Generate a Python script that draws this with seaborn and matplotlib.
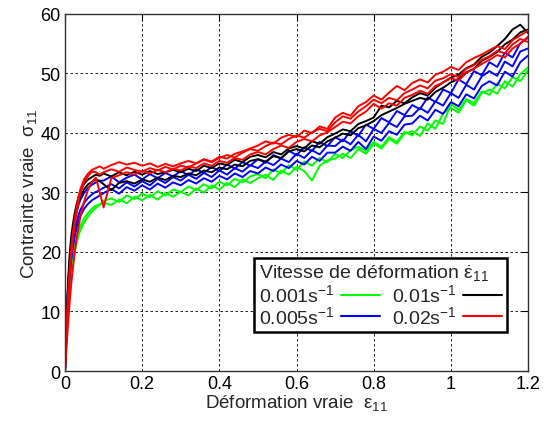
import matplotlib
matplotlib.use("Agg")
import matplotlib.pyplot as plt
from matplotlib.lines import Line2D
import pandas as pd
import seaborn as sns

# strain grid shared by all curves
strain = [0, 0.004, 0.008, 0.012, 0.016, 0.02, 0.025, 0.03, 0.035, 0.04, 0.05, 0.06, 0.07, 0.08, 0.09,
          0.10, 0.12, 0.14, 0.16, 0.18, 0.20, 0.22, 0.24, 0.26, 0.28,
          0.30, 0.32, 0.34, 0.36, 0.38, 0.40, 0.42, 0.44, 0.46, 0.48,
          0.50, 0.52, 0.54, 0.56, 0.58, 0.60, 0.62, 0.64, 0.66, 0.68,
          0.70, 0.72, 0.74, 0.76, 0.78, 0.80, 0.82, 0.84, 0.86, 0.88,
          0.90, 0.92, 0.94, 0.96, 0.98, 1.00, 1.02, 1.04, 1.06, 1.08,
          1.10, 1.12, 1.14, 1.16, 1.18, 1.20]

# 0.001 s-1 (green)
green_a = [0, 6, 10.5, 13.5, 16, 18, 20, 21.5, 22.8, 23.7, 25.0, 26.0, 26.8, 27.4, 27.9,
           28.3, 27.9, 28.8, 28.2, 29.3, 28.7, 29.6, 28.8, 29.9, 29.3,
           30.1, 29.5, 30.7, 30.0, 31.2, 30.5, 31.6, 30.9, 32.2, 31.6,
           32.4, 33.0, 32.1, 33.7, 33.0, 34.3, 33.6, 32.0, 34.5, 35.4,
           35.7, 36.5, 35.8, 37.3, 36.5, 38.2, 37.4, 39.0, 38.2, 39.9,
           40.3, 39.5, 41.6, 40.7, 43.3, 44.2, 43.4, 45.5, 44.6, 46.7,
           47.3, 46.6, 48.7, 47.8, 49.9, 51.0]
green_b = [0, 7.5, 12, 14.8, 17, 19, 20.8, 22.3, 23.5, 24.4, 25.7, 26.6, 27.3, 27.8, 28.0,
           28.6, 29.0, 28.4, 29.5, 28.9, 29.8, 29.2, 30.2, 29.5, 30.5,
           30.1, 31.0, 30.4, 31.4, 30.7, 31.8, 31.2, 32.3, 31.7, 32.7,
           33.1, 32.4, 33.9, 33.2, 34.6, 33.8, 35.2, 34.5, 35.8, 35.1,
           36.5, 35.8, 37.1, 37.7, 37.0, 38.5, 37.7, 39.3, 38.5, 40.2,
           39.6, 41.1, 40.4, 42.1, 41.5, 44.9, 43.9, 45.7, 45.0, 47.0,
           46.4, 48.3, 47.5, 49.4, 48.7, 50.5]

# 0.005 s-1 (blue)
blue_a = [0, 8, 13, 16.5, 19.5, 21.5, 23.5, 25, 26.2, 27.1, 28.3, 29.1, 29.7, 30.1, 30.4,
          30.8, 31.4, 30.7, 31.7, 31.0, 31.9, 31.2, 32.3, 31.6, 32.6,
          32.0, 33.0, 32.3, 33.3, 32.6, 33.7, 33.0, 34.1, 33.5, 34.6,
          34.1, 35.2, 34.6, 35.7, 35.1, 36.5, 35.8, 37.1, 36.4, 37.9,
          37.8, 38.9, 38.1, 39.7, 38.6, 40.7, 40.0, 41.7, 41.0, 42.8,
          42.9, 44.2, 43.4, 45.3, 44.6, 46.7, 45.9, 48.1, 47.3, 49.5,
          50.4, 49.6, 52.0, 51.2, 53.7, 54.2]
blue_b = [0, 9, 14.5, 18.3, 21.2, 23.2, 25.2, 26.7, 27.9, 28.8, 30.0, 30.8, 31.3, 31.7, 32.0,
          32.0, 32.7, 31.7, 32.5, 33.0, 32.2, 33.1, 32.4, 33.3, 32.7,
          33.6, 32.9, 33.9, 33.3, 34.3, 33.6, 34.7, 34.0, 35.1, 34.5,
          35.6, 35.0, 36.3, 35.7, 37.0, 36.3, 37.6, 37.0, 38.5, 37.8,
          39.3, 38.6, 40.3, 39.5, 41.4, 40.7, 42.5, 41.8, 43.7, 43.0,
          44.7, 44.0, 46.0, 45.2, 47.3, 46.7, 49.0, 48.2, 50.4, 49.7,
          51.9, 51.1, 53.5, 52.7, 55.1, 56.0]
blue_c = [0, 7, 12, 15.5, 18.5, 20.5, 22.5, 24, 25.2, 26.1, 27.3, 28.1, 28.7, 29.1, 29.5,
          29.9, 30.6, 29.8, 30.9, 30.3, 31.2, 30.5, 31.5, 30.8, 31.7,
          31.2, 32.1, 31.5, 32.4, 31.8, 32.8, 32.2, 33.2, 32.6, 33.6,
          33.2, 34.2, 33.6, 34.7, 34.1, 35.3, 34.7, 36.0, 35.3, 36.7,
          36.7, 37.7, 37.0, 38.5, 37.3, 39.4, 38.7, 40.3, 39.7, 41.4,
          41.6, 42.9, 42.1, 43.9, 43.2, 45.2, 44.5, 46.5, 45.8, 47.9,
          48.7, 48.0, 50.3, 49.5, 51.9, 53.0]

# 0.01 s-1 (black)
black_a = [0, 9, 15, 19.5, 22.5, 24.5, 26.5, 28, 29.2, 30.2, 31.5, 32.2, 32.6, 33.0, 32.8,
           33.2, 32.7, 33.4, 32.9, 33.5, 33.0, 33.6, 33.1, 33.4, 33.8,
           33.4, 34.0, 33.6, 34.5, 34.1, 34.9, 34.6, 35.5, 35.1, 36.0,
           36.3, 35.9, 36.8, 36.4, 37.4, 37.8, 37.4, 38.6, 38.2, 39.3,
           39.9, 40.6, 40.3, 41.5, 42.0, 42.6, 44.6, 44.3, 45.4, 45.0,
           46.0, 46.7, 46.3, 47.6, 48.5, 49.3, 49.8, 50.9, 51.5, 52.8,
           53.5, 54.6, 55.8, 57.4, 58.2, 56.8]
black_b = [0, 8, 14, 18.5, 21.5, 23.5, 25.5, 27, 28.3, 29.3, 30.6, 31.4, 31.8, 32.2, 31.9,
           31.4, 30.4, 31.6, 31.9, 31.5, 32.2, 31.8, 32.5, 32.1, 32.8,
           32.6, 33.2, 32.9, 33.7, 33.4, 34.2, 33.9, 34.7, 34.4, 35.3,
           35.6, 35.2, 36.1, 35.8, 36.9, 37.3, 36.9, 37.9, 37.6, 38.6,
           39.2, 39.9, 39.6, 40.8, 41.3, 42.0, 43.0, 43.6, 44.2, 44.9,
           45.4, 45.9, 45.6, 46.9, 47.6, 48.5, 49.1, 50.2, 50.8, 52.1,
           52.8, 53.6, 54.9, 55.7, 56.9, 57.4]

# 0.02 s-1 (red)
red_a = [0, 8, 13, 17, 20.5, 23, 25.5, 27.5, 29.3, 30.6, 32.3, 33.2, 33.8, 34.1, 34.4,
         34.0, 34.6, 35.1, 34.7, 35.0, 34.5, 34.9, 34.3, 34.8, 34.4,
         34.9, 35.3, 34.9, 35.6, 35.2, 36.0, 35.7, 36.5, 36.9, 37.4,
         37.9, 38.6, 38.2, 39.2, 39.7, 39.3, 40.4, 40.0, 41.1, 40.7,
         42.6, 43.4, 42.9, 44.5, 45.2, 46.3, 45.6, 46.8, 47.9, 47.2,
         48.4, 49.0, 48.5, 49.8, 50.3, 51.1, 50.6, 51.9, 52.6, 53.2,
         53.9, 54.6, 54.1, 55.6, 56.4, 57.2]
red_b = [0, 7, 12, 16, 19.5, 22, 24.5, 26.5, 28.5, 30, 31.8, 32.8, 33.5, 33.4, 33.0,
         33.4, 33.9, 33.5, 34.2, 33.8, 33.5, 34.1, 33.7, 34.3, 33.9,
         34.5, 34.2, 34.9, 35.5, 35.1, 35.8, 36.3, 35.9, 36.7, 37.3,
         37.0, 37.8, 38.4, 38.1, 39.0, 39.6, 39.2, 40.1, 40.7, 40.3,
         41.8, 42.8, 42.4, 43.6, 44.5, 45.6, 45.0, 45.9, 45.5, 46.7,
         47.3, 48.0, 47.5, 48.8, 49.2, 49.9, 49.4, 50.8, 51.4, 52.3,
         52.9, 53.8, 53.4, 54.9, 55.8, 55.3]
red_c = [0, 4, 8, 11.5, 14.5, 17, 19.8, 22.2, 24.2, 26, 28.6, 30.5, 31.8, 32.5, 30.0,
         27.5, 32.4, 32.9, 33.4, 33.0, 33.6, 33.2, 33.8, 33.4, 34.0,
         33.7, 34.4, 34.1, 34.9, 34.5, 35.3, 35.0, 35.8, 35.5, 36.4,
         36.8, 36.4, 37.3, 37.9, 37.5, 38.5, 39.0, 38.6, 39.6, 40.1,
         41.0, 41.9, 41.6, 42.8, 43.6, 44.9, 44.1, 45.0, 44.6, 45.9,
         46.4, 47.1, 46.6, 47.9, 48.5, 49.2, 48.8, 50.1, 50.8, 51.6,
         52.3, 53.1, 52.7, 54.2, 55.0, 56.2]

rates = ["0.001", "0.005", "0.01", "0.02"]
colors = ["#00ff00", "#0000ff", "#000000", "#ff0000"]
curves = {
    "0.001": [green_a, green_b],
    "0.005": [blue_a, blue_b, blue_c],
    "0.01": [black_a, black_b],
    "0.02": [red_a, red_b, red_c],
}

rows = []
for rate in rates:
    for k, stress in enumerate(curves[rate]):
        for e, s in zip(strain, stress):
            rows.append({"rate": rate, "run": f"{rate}_{k}", "strain": e, "stress": s})
df = pd.DataFrame(rows)

sns.set_style("white")
plt.rcParams["font.family"] = ["Liberation Sans", "DejaVu Sans"]
plt.rcParams["mathtext.fontset"] = "custom"
plt.rcParams["mathtext.rm"] = "Liberation Sans"
plt.rcParams["mathtext.it"] = "Liberation Sans"

fig = plt.figure(figsize=(5.44, 4.27), dpi=100)
ax = fig.add_axes([0.1195, 0.1288, 0.8511, 0.8361])

sns.lineplot(data=df, x="strain", y="stress", hue="rate", units="run", estimator=None,
             palette=dict(zip(rates, colors)), hue_order=rates, sort=False,
             linewidth=1.4, legend=False, ax=ax)

ax.set_xlim(0, 1.2)
ax.set_ylim(0, 60)
ax.set_xticks([0, 0.2, 0.4, 0.6, 0.8, 1.0, 1.2])
ax.set_xticklabels(["0", "0.2", "0.4", "0.6", "0.8", "1", "1.2"])
ax.set_yticks([0, 10, 20, 30, 40, 50, 60])
ax.tick_params(direction="in", length=5, width=0.8, top=True, right=True,
               labelsize=13, colors="black", pad=3)
ax.grid(True, color="black", linestyle=(0, (3, 3)), linewidth=0.6)
for sp in ax.spines.values():
    sp.set_color("#333333")
    sp.set_linewidth(1.0)

ax.set_xlabel("Déformation vraie  ε$_{11}$", fontsize=13.5, labelpad=0)
ax.set_ylabel("Contrainte vraie  σ$_{11}$", fontsize=13.5, labelpad=1)

handles = [Line2D([], [], color=c, lw=1.5) for c in colors]
labels = [f"{r}s$^{{-1}}$" for r in rates]
leg = ax.legend(handles, labels, ncol=2, markerfirst=False, fontsize=14,
                title="Vitesse de déformation $\\dot{\\varepsilon}_{11}$", title_fontsize=14,
                alignment="left", loc="lower left", bbox_to_anchor=(0.408, 0.109),
                borderaxespad=0, frameon=True, fancybox=False, edgecolor="black",
                framealpha=1, handlelength=2.0, handletextpad=0.35, columnspacing=0.6,
                labelspacing=0.0, borderpad=0.25)
leg.get_frame().set_linewidth(1.8)

fig.savefig("out.png", dpi=100)
